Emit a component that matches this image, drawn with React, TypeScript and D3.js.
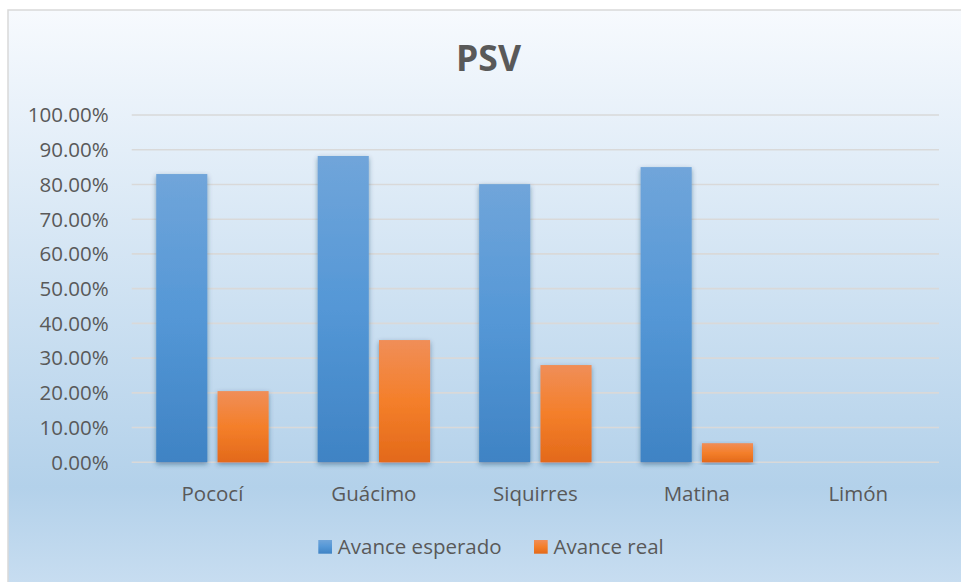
import React from "react";
import * as d3 from "d3";

const categories = ["Pococí", "Guácimo", "Siquirres", "Matina", "Limón"];
const esperado = [0.83, 0.882, 0.801, 0.85, 0];
const real = [0.205, 0.352, 0.28, 0.055, 0];
const yTicks = [0, 0.1, 0.2, 0.3, 0.4, 0.5, 0.6, 0.7, 0.8, 0.9, 1.0];
const seriesNames = ["Avance esperado", "Avance real"];
const title = "PSV";

const W = 961;
const H = 582;
const FONT = "'Open Sans', 'Noto Sans', sans-serif";
const TXT = "#595959";
const FS = 20.5;

export default function App() {
  const x = d3.scaleBand<string>().domain(categories).range([131.7, 939]).padding(0);
  const y = d3.scaleLinear().domain([0, 1]).range([462.3, 115]);
  const bw = x.bandwidth() / 3.16;
  const gap = bw * 0.2;
  const groupW = bw * 2 + gap;
  const off = (x.bandwidth() - groupW) / 2;
  const fmt = d3.format(".2%");
  const series = [esperado, real];
  const grads = ["gBlue", "gOrange"];

  return (
    <div style={{ position: "fixed", left: 0, top: 0, width: W, height: H, overflow: "hidden", background: "#fff" }}>
      <svg width={W} height={H} style={{ display: "block" }}>
        <defs>
          <linearGradient id="bg" x1="0" y1="0" x2="0" y2="1">
            <stop offset="0" stopColor="#f7fafe" />
            <stop offset="0.82" stopColor="#b3d1ea" />
            <stop offset="1" stopColor="#c9def1" />
          </linearGradient>
          <linearGradient id="gBlue" x1="0" y1="0" x2="0" y2="1">
            <stop offset="0" stopColor="#70a5da" />
            <stop offset="0.5" stopColor="#5497d6" />
            <stop offset="1" stopColor="#3f83c4" />
          </linearGradient>
          <linearGradient id="gOrange" x1="0" y1="0" x2="0" y2="1">
            <stop offset="0" stopColor="#f08e58" />
            <stop offset="0.5" stopColor="#f47f2a" />
            <stop offset="1" stopColor="#e3691a" />
          </linearGradient>
          <filter id="sh" x="-30%" y="-10%" width="160%" height="120%">
            <feDropShadow dx="0" dy="2" stdDeviation="2.5" floodColor="#1f3a5a" floodOpacity="0.45" />
          </filter>
        </defs>
        <rect x={8} y={10} width={W} height={H} fill="url(#bg)" stroke="#d9d9d9" strokeWidth={1.5} />
        <text x={488.5} y={71} textAnchor="middle" fontFamily={FONT} fontWeight="bold" fontSize={35.5} fill={TXT}>
          {title}
        </text>
        {yTicks.map((t) => (
          <g key={t}>
            <line x1={131.7} x2={939} y1={y(t)} y2={y(t)} stroke="#d9d9d9" strokeWidth={1.6} />
            <text x={108.7} y={y(t)} dy="0.36em" textAnchor="end" fontFamily={FONT} fontSize={FS} fill={TXT}>
              {fmt(t)}
            </text>
          </g>
        ))}
        {categories.map((c, i) => (
          <g key={c}>
            {series.map((s, j) =>
              s[i] > 0 ? (
                <rect
                  key={j}
                  x={(x(c) as number) + off + j * (bw + gap)}
                  y={y(s[i])}
                  width={bw}
                  height={y(0) - y(s[i])}
                  fill={`url(#${grads[j]})`}
                  filter="url(#sh)"
                />
              ) : null
            )}
            <text
              x={(x(c) as number) + x.bandwidth() / 2}
              y={494}
              dy="0.36em"
              textAnchor="middle"
              fontFamily={FONT}
              fontSize={FS}
              fill={TXT}
            >
              {c}
            </text>
          </g>
        ))}
        {seriesNames.map((n, j) => {
          const lx = j === 0 ? 318.3 : 534;
          return (
            <g key={n}>
              <rect x={lx} y={540} width={13.7} height={13.7} fill={`url(#${grads[j]})`} />
              <text x={lx + 19.5} y={546.8} dy="0.36em" fontFamily={FONT} fontSize={FS} fill={TXT}>
                {n}
              </text>
            </g>
          );
        })}
      </svg>
    </div>
  );
}
